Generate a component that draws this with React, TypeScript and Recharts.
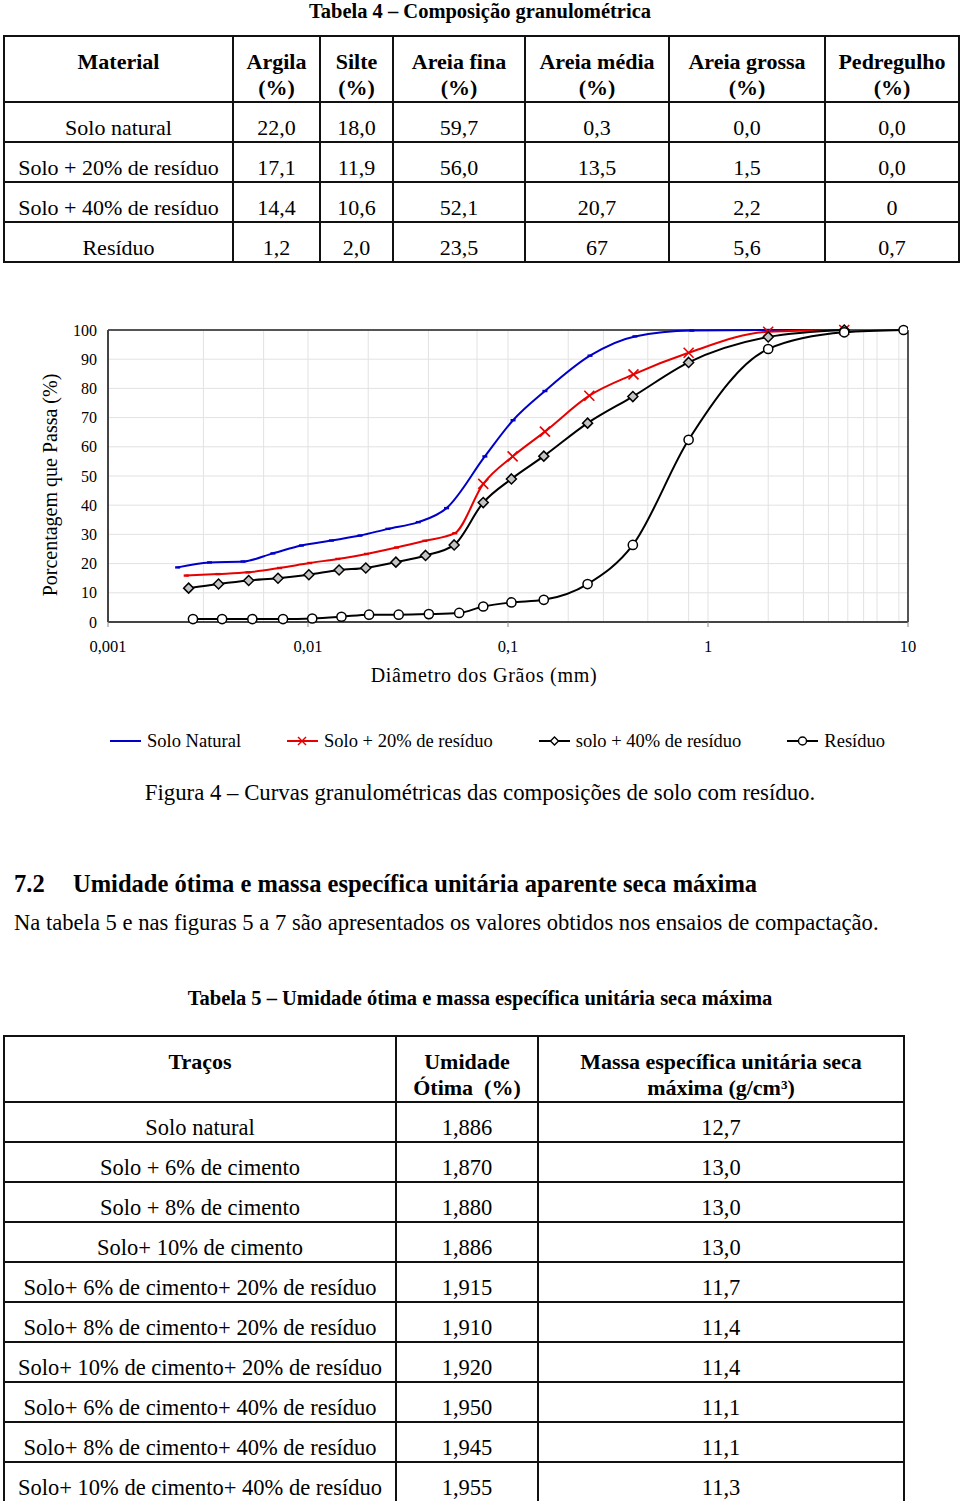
import React from 'react';
import { LineChart, Line, XAxis, YAxis, CartesianGrid, ReferenceLine } from 'recharts';

const FONT = '"Liberation Serif", "Times New Roman", serif';

// Tabela 4 – Composição granulométrica
const t4Headers = [['Material'], ['Argila', '(%)'], ['Silte', '(%)'], ['Areia fina', '(%)'], ['Areia média', '(%)'], ['Areia grossa', '(%)'], ['Pedregulho', '(%)']];
const t4Materiais = ['Solo natural', 'Solo + 20% de resíduo', 'Solo + 40% de resíduo', 'Resíduo'];
const t4Argila = ['22,0', '17,1', '14,4', '1,2'];
const t4Silte = ['18,0', '11,9', '10,6', '2,0'];
const t4AreiaFina = ['59,7', '56,0', '52,1', '23,5'];
const t4AreiaMedia = ['0,3', '13,5', '20,7', '67'];
const t4AreiaGrossa = ['0,0', '1,5', '2,2', '5,6'];
const t4Pedregulho = ['0,0', '0,0', '0', '0,7'];

// Figura 4 – curvas granulométricas (diâmetro em mm, % que passa)
const naturalD = [0.00223, 0.00322, 0.00473, 0.00668, 0.00927, 0.0131, 0.0182, 0.0251, 0.0356, 0.0493, 0.0766, 0.106, 0.153, 0.257, 0.431, 0.83, 2.0, 4.8];
const naturalP = [18.7, 20.4, 20.7, 23.5, 26.2, 27.9, 29.6, 31.9, 34.2, 39.0, 56.7, 69.1, 79.1, 91.2, 97.8, 99.8, 100, 100];
const r20D = [0.00246, 0.00355, 0.00501, 0.00721, 0.0102, 0.0141, 0.0196, 0.0277, 0.0384, 0.0542, 0.0752, 0.1055, 0.153, 0.255, 0.424, 0.8, 2.0, 4.8];
const r20P = [15.9, 16.4, 17.0, 18.5, 20.2, 21.6, 23.3, 25.5, 27.8, 30.4, 47.3, 56.7, 65.2, 77.5, 84.8, 92.2, 99.4, 100];
const r40D = [0.00253, 0.00357, 0.00505, 0.00708, 0.0101, 0.0143, 0.01945, 0.0275, 0.0387, 0.0538, 0.0752, 0.104, 0.151, 0.25, 0.421, 0.8, 2.0, 4.8];
const r40P = [11.6, 13.0, 14.2, 15.0, 16.2, 17.8, 18.5, 20.5, 22.8, 26.4, 40.9, 49.0, 56.8, 68.1, 77.2, 88.9, 97.6, 100];
const residuoD = [0.00266, 0.00372, 0.00527, 0.0075, 0.0105, 0.0147, 0.0202, 0.0284, 0.0402, 0.057, 0.0752, 0.104, 0.151, 0.25, 0.421, 0.8, 2.0, 4.8, 9.5];
const residuoP = [1.0, 1.0, 1.0, 1.0, 1.2, 1.8, 2.5, 2.5, 2.7, 3.1, 5.3, 6.7, 7.6, 13.0, 26.4, 62.4, 93.5, 99.2, 100];

const xTicks = [0.001, 0.01, 0.1, 1, 10];
const yTicks = [0, 10, 20, 30, 40, 50, 60, 70, 80, 90, 100];
const legendNames = ['Solo Natural', 'Solo + 20% de resíduo', 'solo + 40% de resíduo', 'Resíduo'];

// Tabela 5 – Umidade ótima e massa específica unitária seca máxima
const t5Tracos = [
  'Solo natural', 'Solo + 6% de cimento', 'Solo + 8% de cimento', 'Solo+ 10% de cimento',
  'Solo+ 6% de cimento+ 20% de resíduo', 'Solo+ 8% de cimento+ 20% de resíduo', 'Solo+ 10% de cimento+ 20% de resíduo',
  'Solo+ 6% de cimento+ 40% de resíduo', 'Solo+ 8% de cimento+ 40% de resíduo', 'Solo+ 10% de cimento+ 40% de resíduo',
];
const t5Umidade = ['1,886', '1,870', '1,880', '1,886', '1,915', '1,910', '1,920', '1,950', '1,945', '1,955'];
const t5Massa = ['12,7', '13,0', '13,0', '13,0', '11,7', '11,4', '11,4', '11,1', '11,1', '11,3'];

const toRows = (d: number[], p: number[]) => d.map((v, i) => ({ d: v, p: p[i] }));
const naturalData = toRows(naturalD, naturalP);
const r20Data = toRows(r20D, r20P);
const r40Data = toRows(r40D, r40P);
const residuoData = toRows(residuoD, residuoP);

// minor log grid lines (1..9 per decade)
const minorGrid = [0.001, 0.01, 0.1, 1].flatMap((dec) => [1, 2, 3, 4, 5, 6, 7, 8, 9].map((m) => +(dec * m).toPrecision(3)));

const fmtComma = (v: number) => String(v).replace('.', ',');

const BLUE = '#0000c8';
const RED = '#e60000';

const dashDot = (props: any) => {
  const { cx, cy, index } = props;
  if (cx == null || cy == null) return <g key={`b-${index}`} />;
  return <rect key={`b-${index}`} x={cx - 2.5} y={cy - 1.2} width={5} height={2.4} fill={BLUE} />;
};

const crossDot = (props: any) => {
  const { cx, cy, index } = props;
  if (cx == null || cy == null) return <g key={`r-${index}`} />;
  if (index < 10) return <rect key={`r-${index}`} x={cx - 2.5} y={cy - 1.2} width={5} height={2.4} fill={RED} />;
  const s = 5;
  return (
    <g key={`r-${index}`}>
      <line x1={cx - s} y1={cy - s} x2={cx + s} y2={cy + s} stroke={RED} strokeWidth={1.6} />
      <line x1={cx - s} y1={cy + s} x2={cx + s} y2={cy - s} stroke={RED} strokeWidth={1.6} />
    </g>
  );
};

const diamondDot = (props: any) => {
  const { cx, cy, index } = props;
  if (cx == null || cy == null) return <g key={`k-${index}`} />;
  const s = 5;
  return (
    <polygon key={`k-${index}`} points={`${cx},${cy - s} ${cx + s},${cy} ${cx},${cy + s} ${cx - s},${cy}`}
      fill="#c4c4c4" stroke="#000" strokeWidth={1.5} />
  );
};

const circleDot = (props: any) => {
  const { cx, cy, index } = props;
  if (cx == null || cy == null) return <g key={`c-${index}`} />;
  return <circle key={`c-${index}`} cx={cx} cy={cy} r={4.6} fill="#fff" stroke="#000" strokeWidth={1.5} />;
};

function LegendIcon({ kind }: { kind: number }) {
  const color = kind === 0 ? BLUE : kind === 1 ? RED : '#000';
  return (
    <svg width={31} height={14} style={{ display: 'block' }}>
      <line x1={0} y1={7} x2={31} y2={7} stroke={color} strokeWidth={2} />
      {kind === 0 && <rect x={13} y={6} width={5} height={2} fill={BLUE} />}
      {kind === 1 && (
        <g>
          <line x1={11} y1={3} x2={19} y2={11} stroke={RED} strokeWidth={1.5} />
          <line x1={11} y1={11} x2={19} y2={3} stroke={RED} strokeWidth={1.5} />
        </g>
      )}
      {kind === 2 && <polygon points="15.5,3 19.5,7 15.5,11 11.5,7" fill="#fff" stroke="#000" strokeWidth={1.4} />}
      {kind === 3 && <circle cx={15.5} cy={7} r={4} fill="#fff" stroke="#000" strokeWidth={1.4} />}
    </svg>
  );
}

const cell: React.CSSProperties = {
  border: '2px solid #111',
  textAlign: 'center',
  padding: 0,
};

function GranuloChart() {
  return (
    <LineChart width={960} height={390} margin={{ top: 30, right: 52, bottom: 8, left: 8 }}>
      <CartesianGrid stroke="#e2e2e2" strokeWidth={1} verticalValues={minorGrid} horizontalValues={yTicks} />
      <XAxis
        dataKey="d"
        type="number"
        scale="log"
        domain={[0.001, 10]}
        ticks={xTicks}
        allowDataOverflow
        height={60}
        tickSize={5}
        tickMargin={13}
        tickFormatter={fmtComma}
        tick={{ fill: '#000', fontSize: 16.5, fontFamily: FONT }}
        stroke="#444"
        axisLine={{ stroke: '#444', strokeWidth: 2 }}
        tickLine={{ stroke: '#888' }}
        label={{
          content: ({ viewBox }: any) => (
            <text x={viewBox.x + viewBox.width / 2 - 24} y={viewBox.y + 60} textAnchor="middle"
              fontFamily={FONT} fontSize={20} letterSpacing={0.7} fill="#000">
              Diâmetro dos Grãos (mm)
            </text>
          ),
        }}
      />
      <YAxis
        dataKey="p"
        type="number"
        domain={[0, 100]}
        ticks={yTicks}
        width={100}
        tickSize={0}
        tickMargin={11}
        tick={{ fill: '#000', fontSize: 16, fontFamily: FONT }}
        axisLine={{ stroke: '#444', strokeWidth: 2 }}
        label={{
          content: ({ viewBox }: any) => {
            const x = 57;
            const y = viewBox.y + viewBox.height / 2 + 9;
            return (
              <text x={x} y={y} transform={`rotate(-90 ${x} ${y})`} textAnchor="middle"
                fontFamily={FONT} fontSize={20} fill="#000">
                Porcentagem que Passa (%)
              </text>
            );
          },
        }}
      />
      <ReferenceLine y={100} stroke="#555" strokeWidth={2} />
      <ReferenceLine x={10} stroke="#555" strokeWidth={2} />
      <Line data={naturalData} dataKey="p" type="monotone" stroke={BLUE} strokeWidth={2} dot={dashDot} activeDot={false} isAnimationActive={false} />
      <Line data={r20Data} dataKey="p" type="monotone" stroke={RED} strokeWidth={2} dot={crossDot} activeDot={false} isAnimationActive={false} />
      <Line data={r40Data} dataKey="p" type="monotone" stroke="#000" strokeWidth={2} dot={diamondDot} activeDot={false} isAnimationActive={false} />
      <Line data={residuoData} dataKey="p" type="monotone" stroke="#000" strokeWidth={2} dot={circleDot} activeDot={false} isAnimationActive={false} />
    </LineChart>
  );
}

export default function App() {
  const t4Cols = [t4Argila, t4Silte, t4AreiaFina, t4AreiaMedia, t4AreiaGrossa, t4Pedregulho];
  const t4Widths = [229, 87, 73, 132, 144, 156, 134];
  const t5Widths = [392, 142, 366];
  return (
    <div style={{ position: 'absolute', left: 0, top: 0, width: 960, height: 1501, background: '#fff', color: '#000', fontFamily: FONT, overflow: 'hidden' }}>
      <div style={{ position: 'absolute', top: 0, left: 0, width: 960, textAlign: 'center', fontWeight: 'bold', fontSize: 20.5, lineHeight: '22px' }}>
        Tabela 4 – Composição granulométrica
      </div>

      <table style={{ position: 'absolute', left: 3, top: 35, borderCollapse: 'collapse', tableLayout: 'fixed', width: 955, fontSize: 22 }}>
        <colgroup>
          {t4Widths.map((w, i) => <col key={i} style={{ width: w }} />)}
        </colgroup>
        <tbody>
          <tr style={{ height: 66 }}>
            {t4Headers.map((h, i) => (
              <td key={i} style={{ ...cell, fontWeight: 'bold', verticalAlign: 'top', paddingTop: 12, lineHeight: '26px' }}>
                {h.map((l, j) => <div key={j}>{l}</div>)}
              </td>
            ))}
          </tr>
          {t4Materiais.map((m, r) => (
            <tr key={m} style={{ height: 40 }}>
              <td style={{ ...cell, paddingTop: 12, lineHeight: '24px' }}>{m}</td>
              {t4Cols.map((col, c) => (
                <td key={c} style={{ ...cell, paddingTop: 12, lineHeight: '24px' }}>{col[r]}</td>
              ))}
            </tr>
          ))}
        </tbody>
      </table>

      <div style={{ position: 'absolute', left: 0, top: 300 }}>
        <GranuloChart />
      </div>

      <div style={{ position: 'absolute', left: 110, top: 731, display: 'flex', alignItems: 'center', gap: 46, fontSize: 18.5, lineHeight: '20px', whiteSpace: 'nowrap' }}>
        {legendNames.map((n, i) => (
          <div key={n} style={{ display: 'flex', alignItems: 'center' }}>
            <LegendIcon kind={i} />
            <span style={{ marginLeft: 6 }}>{n}</span>
          </div>
        ))}
      </div>

      <div style={{ position: 'absolute', left: 0, top: 781, width: 960, textAlign: 'center', fontSize: 22.8, lineHeight: '24px' }}>
        Figura 4 – Curvas granulométricas das composições de solo com resíduo.
      </div>

      <div style={{ position: 'absolute', left: 14, top: 871, fontSize: 24.5, fontWeight: 'bold', lineHeight: '26px', whiteSpace: 'nowrap' }}>
        <span style={{ display: 'inline-block', width: 59 }}>7.2</span>Umidade ótima e massa específica unitária aparente seca máxima
      </div>
      <div style={{ position: 'absolute', left: 14, top: 910, fontSize: 22.6, lineHeight: '26px', whiteSpace: 'nowrap' }}>
        Na tabela 5 e nas figuras 5 a 7 são apresentados os valores obtidos nos ensaios de compactação.
      </div>

      <div style={{ position: 'absolute', top: 987, left: 0, width: 960, textAlign: 'center', fontWeight: 'bold', fontSize: 20.5, lineHeight: '22px' }}>
        Tabela 5 – Umidade ótima e massa específica unitária seca máxima
      </div>

      <table style={{ position: 'absolute', left: 3, top: 1035, borderCollapse: 'collapse', tableLayout: 'fixed', width: 900, fontSize: 22.5 }}>
        <colgroup>
          {t5Widths.map((w, i) => <col key={i} style={{ width: w }} />)}
        </colgroup>
        <tbody>
          <tr style={{ height: 66 }}>
            <td style={{ ...cell, fontWeight: 'bold', verticalAlign: 'top', paddingTop: 12, lineHeight: '26px', fontSize: 22 }}>Traços</td>
            <td style={{ ...cell, fontWeight: 'bold', verticalAlign: 'top', paddingTop: 12, lineHeight: '26px', fontSize: 22 }}>
              <div>Umidade</div><div>Ótima&nbsp; (%)</div>
            </td>
            <td style={{ ...cell, fontWeight: 'bold', verticalAlign: 'top', paddingTop: 12, lineHeight: '26px', fontSize: 22 }}>
              <div>Massa específica unitária seca</div><div>máxima (g/cm³)</div>
            </td>
          </tr>
          {t5Tracos.map((t, r) => (
            <tr key={t} style={{ height: 40 }}>
              <td style={{ ...cell, paddingTop: 12, lineHeight: '24px', whiteSpace: 'nowrap' }}>{t}</td>
              <td style={{ ...cell, paddingTop: 12, lineHeight: '24px' }}>{t5Umidade[r]}</td>
              <td style={{ ...cell, paddingTop: 12, lineHeight: '24px' }}>{t5Massa[r]}</td>
            </tr>
          ))}
        </tbody>
      </table>
    </div>
  );
}
